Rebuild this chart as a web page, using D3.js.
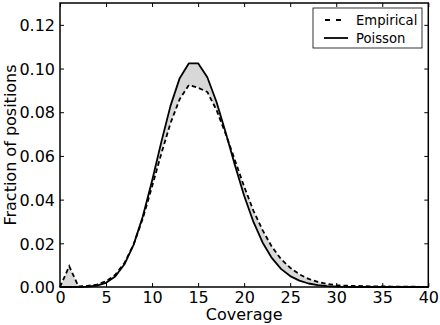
<!DOCTYPE html>
<html>
<head>
<meta charset="utf-8">
<script src="https://cdn.jsdelivr.net/npm/d3@7"></script>
<style>
  html, body { margin: 0; padding: 0; background: #fff; }
  svg { display: block; }
  text { font-family: "DejaVu Sans", sans-serif; fill: #000; }
</style>
</head>
<body>
<svg id="chart" width="440" height="325"></svg>
<script>
const coverage = d3.range(0, 41);
const empirical = [
  0.0000, 0.0095, 0.0003, 0.0005, 0.0011, 0.0026, 0.0056, 0.0110, 0.0195, 0.0315,
  0.0460, 0.0610, 0.0750, 0.0860, 0.0925, 0.0912, 0.0893, 0.0810, 0.0700, 0.0580,
  0.0460, 0.0350, 0.0260, 0.0185, 0.0128, 0.0088, 0.0058, 0.0037, 0.0023, 0.0014,
  0.0009, 0.0006, 0.0005, 0.0004, 0.0003, 0.0003, 0.0002, 0.0002, 0.0002, 0.0001, 0.0001
];
const poisson = [
  0.0000, 0.0000, 0.0000, 0.0002, 0.0006, 0.0019, 0.0048, 0.0104, 0.0194, 0.0324,
  0.0486, 0.0663, 0.0829, 0.0956, 0.1024, 0.1024, 0.0960, 0.0847, 0.0706, 0.0557,
  0.0418, 0.0299, 0.0204, 0.0133, 0.0083, 0.0050, 0.0029, 0.0016, 0.0009, 0.0004,
  0.0002, 0.0001, 0.0000, 0.0000, 0.0000, 0.0000, 0.0000, 0.0000, 0.0000, 0.0000, 0.0000
];
const xTicks = [0, 5, 10, 15, 20, 25, 30, 35, 40];
const yTicks = [0.00, 0.02, 0.04, 0.06, 0.08, 0.10, 0.12];
const seriesNames = ["Empirical", "Poisson"];

const L = 60, R = 428.3, T = 3, B = 287;
const svg = d3.select("#chart");
const x = d3.scaleLinear().domain([0, 40]).range([L, R]);
const y = d3.scaleLinear().domain([0, 0.13]).range([B, T]);

const data = coverage.map((c, i) => ({c, e: empirical[i], p: poisson[i]}));

// fill between
svg.append("path")
  .datum(data)
  .attr("fill", "#d8d8d8")
  .attr("stroke", "none")
  .attr("d", d3.area().x(d => x(d.c)).y0(d => y(d.p)).y1(d => y(d.e)));

// Poisson solid
svg.append("path")
  .datum(data)
  .attr("fill", "none").attr("stroke", "#000").attr("stroke-width", 1.8)
  .attr("stroke-linejoin", "round")
  .attr("d", d3.line().x(d => x(d.c)).y(d => y(d.p)));

// Empirical dashed
svg.append("path")
  .datum(data)
  .attr("fill", "none").attr("stroke", "#000").attr("stroke-width", 1.8)
  .attr("stroke-dasharray", "4.5,3")
  .attr("d", d3.line().x(d => x(d.c)).y(d => y(d.e)));

// axes with inward ticks
const tickLen = 4;
const gx = svg.append("g").attr("transform", `translate(0,${B})`)
  .call(d3.axisBottom(x).tickValues(xTicks).tickSize(-tickLen).tickFormat(d3.format("d")));
const gxt = svg.append("g").attr("transform", `translate(0,${T})`)
  .call(d3.axisTop(x).tickValues(xTicks).tickSize(-tickLen).tickFormat(""));
const gy = svg.append("g").attr("transform", `translate(${L},0)`)
  .call(d3.axisLeft(y).tickValues(yTicks).tickSize(-tickLen).tickPadding(5).tickFormat(d3.format(".2f")));
const gyr = svg.append("g").attr("transform", `translate(${R},0)`)
  .call(d3.axisRight(y).tickValues(yTicks).tickSize(-tickLen).tickFormat(""));
[gx, gxt, gy, gyr].forEach(g => {
  g.select(".domain").remove();
  g.selectAll(".tick line").attr("stroke", "#000").attr("stroke-width", 1);
  g.selectAll("text").style("font-family", "DejaVu Sans").style("font-size", "16px").attr("fill", "#000");
});
gx.selectAll("text").attr("y", 15.5).attr("dy", "0");
gy.selectAll("text").attr("dy", "0.36em");

// frame
svg.append("rect").attr("x", L).attr("y", T).attr("width", R - L).attr("height", B - T)
  .attr("fill", "none").attr("stroke", "#000").attr("stroke-width", 1.5);

// axis labels
svg.append("text").attr("x", (L + R) / 2).attr("y", 320).attr("text-anchor", "middle")
  .style("font-size", "16px").text("Coverage");
svg.append("text").attr("transform", `translate(16,${(T + B) / 2}) rotate(-90)`)
  .attr("text-anchor", "middle").style("font-size", "16px").text("Fraction of positions");

// legend
const lg = svg.append("g");
lg.append("rect").attr("x", 313).attr("y", 8).attr("width", 109).attr("height", 40)
  .attr("fill", "#fff").attr("stroke", "#000").attr("stroke-width", 0.8);
const rows = [{name: seriesNames[0], dash: "4.5,3", yy: 20}, {name: seriesNames[1], dash: null, yy: 38}];
rows.forEach(r => {
  const ln = lg.append("line").attr("x1", 324).attr("x2", 348).attr("y1", r.yy).attr("y2", r.yy)
    .attr("stroke", "#000").attr("stroke-width", 1.8);
  if (r.dash) ln.attr("stroke-dasharray", "5,6").attr("x1", 325).attr("x2", 346);
  lg.append("text").attr("x", 356).attr("y", r.yy + 5).style("font-size", "13.2px").text(r.name);
});
</script>
</body>
</html>
